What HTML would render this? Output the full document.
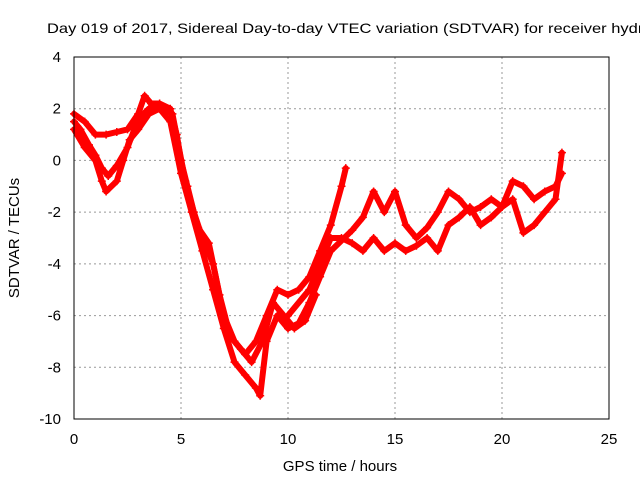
<!DOCTYPE html>
<html><head><meta charset="utf-8"><style>
body{margin:0;background:#fff;}
svg{display:block;font-family:"Liberation Sans",sans-serif;}
</style></head><body>
<svg id="chart" width="640" height="480" viewBox="0 0 640 480">
<text x="47" y="33" font-size="14" textLength="600" lengthAdjust="spacingAndGlyphs" fill="#000">Day 019 of 2017, Sidereal Day-to-day VTEC variation (SDTVAR) for receiver hydn</text>
<text transform="translate(19,238) rotate(-90)" text-anchor="middle" font-size="15">SDTVAR / TECUs</text>
<text x="340" y="471" text-anchor="middle" font-size="15">GPS time / hours</text>
<g id="grid"></g>
<g id="ticks"></g>
<g id="series"></g>
<rect x="74" y="57" width="535" height="362" fill="none" stroke="#000" stroke-width="1"/>
</svg>
<script>
const xTicks=[0,5,10,15,20,25];
const yTicks=[4,2,0,-2,-4,-6,-8,-10];
const traceAx=[0,0.5,1,1.5,2,2.5,3,3.3,3.6,4,4.5,4.8,5,5.3,5.6,6,6.5,7,7.5,8,8.5,9,9.5,10,10.5,11,11.5,12,12.5,12.7];
const traceAy=[1.8,1.5,1.0,1.0,1.1,1.2,1.8,2.5,2.2,2.2,2.0,1.0,0,-1,-2,-3,-4,-6,-7,-7.5,-7,-6,-5,-5.2,-5,-4.5,-3.5,-2.5,-1,-0.3];
const traceBx=[0,0.5,1,1.3,1.5,2,2.3,2.6,3,3.5,4,4.5,5,5.5,6,6.5,7,7.5,8,8.5,8.7,9,9.5,10,10.5,11,11.5,12,13,13.5,14,14.5,15,15.5,16,16.5,17,17.5,18,18.5,19,19.5,20,20.5,21,21.5,22,22.5,22.8];
const traceBy=[1.2,0.5,0,-0.8,-1.2,-0.8,0,0.8,1.2,1.8,2.0,1.5,-0.5,-2,-3.5,-5,-6.5,-7.8,-8.3,-8.8,-9.1,-7,-6,-6.5,-6.3,-5.5,-4.5,-3.5,-2.7,-2.2,-1.2,-2,-1.2,-2.5,-3,-2.6,-2,-1.2,-1.5,-2,-1.8,-1.5,-1.8,-0.8,-1,-1.5,-1.2,-1,-0.5];
const traceCx=[10,11,12,12.5,13,13.5,14,14.5,15,15.5,16,16.5,17,17.5,18,18.5,19,19.5,20,20.5,21,21.5,22,22.5,22.8];
const traceCy=[-6,-5,-3,-3,-3.2,-3.5,-3,-3.5,-3.2,-3.5,-3.3,-3.0,-3.5,-2.5,-2.2,-1.8,-2.5,-2.2,-1.8,-1.5,-2.8,-2.5,-2.0,-1.5,0.3];
const traceDx=[0,0.3,0.7,1.0,1.3,1.6,2.0,2.5,3.0,3.5,4.0,4.6,5.2,5.8,6.3,6.8,7.3,7.8,8.3,8.8,9.3,9.8,10.3,10.8,11.3];
const traceDy=[1.5,1.2,0.6,0.2,-0.3,-0.6,-0.2,0.5,1.6,2.0,2.1,1.8,-0.8,-2.6,-3.2,-5.2,-6.8,-7.3,-7.8,-7.0,-5.5,-6.0,-6.5,-6.2,-5.2];
const X0=74,X1=609,Y0=419,Y1=57;
const sx=v=>X0+(v-0)/(25-0)*(X1-X0);
const sy=v=>Y0-(v+10)/(14)*(Y0-Y1);
const NS='http://www.w3.org/2000/svg';
const grid=document.getElementById('grid'),ticks=document.getElementById('ticks'),ser=document.getElementById('series');
function mk(t,a,p){const e=document.createElementNS(NS,t);for(const k in a)e.setAttribute(k,a[k]);p.appendChild(e);return e;}
xTicks.forEach(v=>{const x=sx(v);
 if(v>0&&v<25){const l=mk('line',{x1:x,x2:x,y1:Y1,y2:Y0,stroke:'#999','stroke-dasharray':'2,3'},grid);
 
 }
 const t=mk('text',{x:x,y:444,'text-anchor':'middle','font-size':'15'},ticks);t.textContent=v;
 
 });
yTicks.forEach(v=>{const y=sy(v);
 if(v>-10&&v<4){const l=mk('line',{x1:X0,x2:X1,y1:y,y2:y,stroke:'#999','stroke-dasharray':'2,3'},grid);
 
 }
 const t=mk('text',{x:61,y:y+5,'text-anchor':'end','font-size':'15'},ticks);t.textContent=v;
 
 });
[[traceAx,traceAy,'trace-a'],[traceBx,traceBy,'trace-b'],[traceCx,traceCy,'trace-c'],[traceDx,traceDy,'trace-d']].forEach(([xs,ys,n])=>{
 const pts=xs.map((x,i)=>sx(x)+','+sy(ys[i])).join(' ');
 const p=mk('polyline',{points:pts,fill:'none',stroke:'#f00','stroke-width':'6','stroke-linejoin':'round','stroke-linecap':'round'},ser);
 
 
 xs.forEach((x,i)=>{const cx=sx(x),cy=sy(ys[i]);
  const m=mk('path',{d:`M${cx-4},${cy}h8M${cx},${cy-4}v8`,stroke:'#f00','stroke-width':'1.5'},ser);
  
  });
});
</script>
</body></html>
